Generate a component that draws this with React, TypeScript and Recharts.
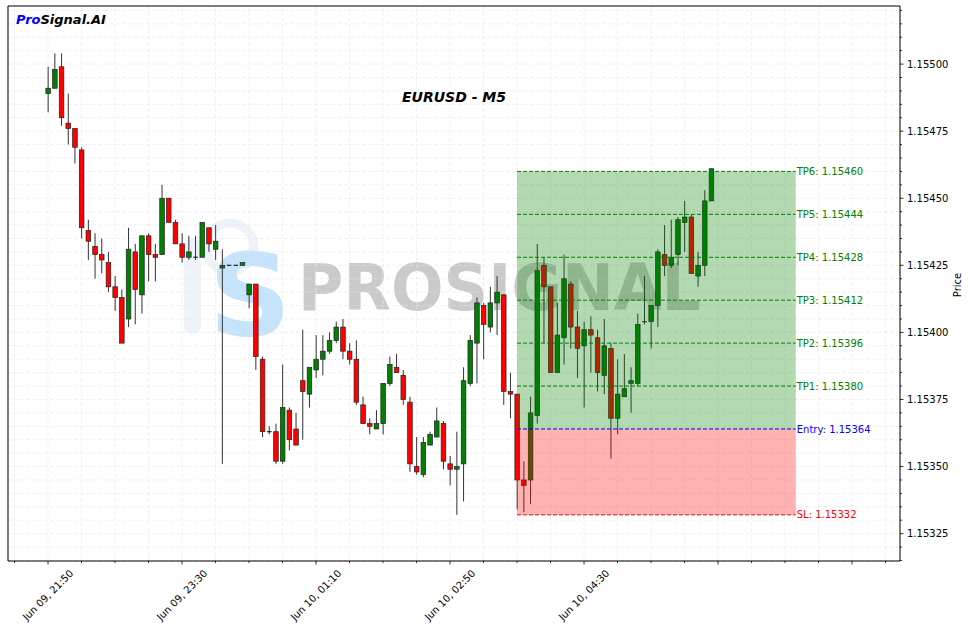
import React from "react";
import {
  Bar,
  CartesianGrid,
  ComposedChart,
  ReferenceArea,
  ReferenceLine,
  XAxis,
  YAxis,
} from "recharts";

// EURUSD M5 candles, Jun 09 21:50 -> Jun 10 06:05
const opens = [
  1.15489, 1.15491, 1.15499, 1.15478, 1.15476, 1.15468, 1.15438, 1.15432, 1.15429, 1.15426,
  1.15417, 1.15413, 1.15405, 1.1543, 1.15414, 1.15436, 1.15429, 1.15429, 1.1545, 1.15441,
  1.15433, 1.15428, 1.15428, 1.15428, 1.15439, 1.15431, 1.15424, 1.15425, 1.15425, 1.15425,
  1.15414, 1.15418, 1.1539, 1.15363, 1.15363, 1.15352, 1.15371, 1.15364, 1.15382, 1.15377,
  1.15386, 1.1539, 1.15393, 1.15397, 1.15402, 1.15393, 1.1539, 1.15373, 1.15366, 1.15364,
  1.15366, 1.15381, 1.15387, 1.15384, 1.15374, 1.1535, 1.15347, 1.15358, 1.15361, 1.15366,
  1.15351, 1.15349, 1.15351, 1.15381, 1.15396, 1.1541, 1.15402, 1.15411, 1.15414, 1.15378,
  1.15377, 1.15345, 1.15345, 1.15369, 1.15425, 1.15417, 1.15385, 1.15398, 1.15418, 1.15402,
  1.15395, 1.15401, 1.15398, 1.15384, 1.15394, 1.15368, 1.15376, 1.15381, 1.15381, 1.15404,
  1.15404, 1.1541, 1.15429, 1.15425, 1.15429, 1.15441, 1.15443, 1.15421, 1.15425, 1.15449,
];
const highs = [
  1.15499, 1.15504, 1.15504, 1.15489, 1.15476, 1.15469, 1.15442, 1.15437, 1.15435, 1.1543,
  1.15421, 1.15416, 1.15439, 1.15433, 1.15436, 1.15437, 1.15433, 1.15455, 1.1545, 1.15442,
  1.15437, 1.15436, 1.15436, 1.15441, 1.15439, 1.1544, 1.15431, 1.15425, 1.15425, 1.15426,
  1.15418, 1.15418, 1.15391, 1.15365, 1.15366, 1.15388, 1.15372, 1.1537, 1.15401, 1.15387,
  1.15399, 1.15399, 1.154, 1.15404, 1.15405, 1.15396, 1.15397, 1.15376, 1.15368, 1.15371,
  1.15381, 1.15391, 1.15392, 1.15386, 1.15376, 1.15361, 1.15361, 1.15363, 1.15372, 1.15367,
  1.15354, 1.15363, 1.15387, 1.15399, 1.15413, 1.15411, 1.15417, 1.15421, 1.15414, 1.15385,
  1.15377, 1.15352, 1.15376, 1.15433, 1.15428, 1.15417, 1.15411, 1.15429, 1.15419, 1.15408,
  1.15404, 1.15406, 1.15401, 1.15405, 1.15396, 1.1539, 1.15392, 1.15387, 1.15407, 1.15421,
  1.1541, 1.15431, 1.1544, 1.15442, 1.15443, 1.15449, 1.15444, 1.1543, 1.15453, 1.15461,
];
const lows = [
  1.15482, 1.15491, 1.15477, 1.1547, 1.15463, 1.15435, 1.15427, 1.1542, 1.15422, 1.15415,
  1.15408, 1.15396, 1.15402, 1.15403, 1.15407, 1.15419, 1.15419, 1.15429, 1.15441, 1.15433,
  1.15426, 1.15427, 1.15427, 1.15428, 1.1543, 1.15427, 1.15351, 1.15425, 1.15425, 1.15425,
  1.15409, 1.15386, 1.15361, 1.15362, 1.15351, 1.15351, 1.15356, 1.15358, 1.1536, 1.15372,
  1.15383, 1.15384, 1.15392, 1.15396, 1.1539, 1.15388, 1.15373, 1.15366, 1.15362, 1.15364,
  1.15362, 1.1538, 1.15385, 1.15373, 1.15348, 1.15347, 1.15346, 1.15358, 1.15361, 1.15349,
  1.15343, 1.15332, 1.15337, 1.1538, 1.15381, 1.1539, 1.154, 1.15399, 1.15373, 1.15368,
  1.15334, 1.15333, 1.15336, 1.15366, 1.15396, 1.15385, 1.15385, 1.15388, 1.15394, 1.15383,
  1.15372, 1.15385, 1.15378, 1.15377, 1.15353, 1.15362, 1.15376, 1.1537, 1.1538, 1.15403,
  1.15394, 1.15402, 1.15421, 1.15424, 1.15425, 1.1543, 1.15422, 1.15417, 1.15421, 1.15449,
];
const closes = [
  1.15491, 1.15498, 1.1548, 1.15476, 1.15469, 1.15439, 1.15434, 1.15429, 1.15427, 1.15417,
  1.15413, 1.15396, 1.15431, 1.15416, 1.15436, 1.15429, 1.15428, 1.1545, 1.15441, 1.15433,
  1.15428, 1.1543, 1.15428, 1.15441, 1.15433, 1.15434, 1.15425, 1.15425, 1.15425, 1.15426,
  1.15418, 1.15391, 1.15363, 1.15363, 1.15352, 1.15372, 1.1536, 1.15358, 1.15378, 1.15387,
  1.1539, 1.15393, 1.15397, 1.15402, 1.15393, 1.1539, 1.15374, 1.15366, 1.15365, 1.15366,
  1.15381, 1.15388, 1.15385, 1.15375, 1.15351, 1.15348, 1.15359, 1.15362, 1.15367, 1.15352,
  1.15349, 1.1535, 1.15382, 1.15397, 1.15411, 1.15403, 1.15411, 1.15415, 1.15378, 1.15377,
  1.15345, 1.15343, 1.1537, 1.15423, 1.15417, 1.15385, 1.15399, 1.1542, 1.15402, 1.15394,
  1.15401, 1.15399, 1.15385, 1.15395, 1.15368, 1.15377, 1.15379, 1.15382, 1.15403, 1.15404,
  1.1541, 1.1543, 1.15425, 1.15428, 1.15442, 1.15443, 1.15422, 1.15425, 1.15449, 1.15461,
];

const xMajorTicks = [0, 20, 40, 60, 80, 100, 120];
const xTickLabels = [
  "Jun 09, 21:50",
  "Jun 09, 23:30",
  "Jun 10, 01:10",
  "Jun 10, 02:50",
  "Jun 10, 04:30",
];

const entryPrice = 1.15364;
const stopPrice = 1.15332;
const tpNames = ["TP1", "TP2", "TP3", "TP4", "TP5", "TP6"];
const tpPrices = [1.1538, 1.15396, 1.15412, 1.15428, 1.15444, 1.1546];
const zoneStart = 70;
const zoneEnd = 111.6;

const X_MIN = -5.97;
const X_MAX = 127.16;
const Y_MIN = 1.153148;
const Y_MAX = 1.1552165;

const candles = opens.map((o, i) => ({
  i,
  o,
  h: highs[i],
  l: lows[i],
  c: closes[i],
}));

// minor ticks every 5 candles / 0.00005, majors picked out in the tick renderers
const xTicks: number[] = [];
for (let v = -5; v <= 125; v += 5) xTicks.push(v);
const yTicks: number[] = [];
for (let k = 115315; k <= 115520; k += 5) yTicks.push(k / 100000);

const FONT = "'DejaVu Sans', sans-serif";
const CHART_MARGIN = { top: 6, right: 0, bottom: 0, left: 8 };

function Candle(props: any) {
  const { x, y, width, height, payload } = props;
  if (!payload || x == null) return null;
  const { o, h, l, c } = payload;
  const cx = x + width / 2;
  const span = h - l;
  const toY = (v: number) => (span > 0 ? y + ((h - v) / span) * height : y);
  const top = toY(Math.max(o, c));
  const bot = toY(Math.min(o, c));
  const bw = 4.6;
  const fill = c > o ? "#008000" : "#ff0000";
  return (
    <g>
      {span > 0 && (
        <line x1={cx} x2={cx} y1={y} y2={y + height} stroke="#333" strokeWidth={1} />
      )}
      {bot - top < 0.7 ? (
        <line
          x1={cx - bw / 2}
          x2={cx + bw / 2}
          y1={top}
          y2={top}
          stroke={c === o ? "#222" : fill}
          strokeWidth={1.2}
        />
      ) : (
        <rect
          x={cx - bw / 2}
          y={top}
          width={bw}
          height={bot - top}
          fill={fill}
          stroke="#222"
          strokeWidth={0.7}
        />
      )}
    </g>
  );
}

function XTick(props: any) {
  const { x, y, payload } = props;
  const v = payload.value;
  const major = v % 20 === 0;
  const label = xTickLabels[xMajorTicks.indexOf(v)];
  const cy = y + 34;
  return (
    <g>
      <line x1={x} x2={x} y1={y} y2={y + (major ? 3.5 : 2)} stroke="#000" strokeWidth={0.8} />
      {major && label && (
        <text
          x={x}
          y={cy}
          textAnchor="middle"
          dominantBaseline="central"
          transform={`rotate(-45 ${x} ${cy})`}
          fontSize={10}
          fontFamily={FONT}
          fill="#000"
        >
          {label}
        </text>
      )}
    </g>
  );
}

function YTick(props: any) {
  const { x, y, payload } = props;
  const v = payload.value;
  const major = Math.round(v * 100000) % 25 === 0;
  return (
    <g>
      <line x1={x} x2={x + (major ? 3.5 : 2)} y1={y} y2={y} stroke="#000" strokeWidth={0.8} />
      {major && (
        <text
          x={x + 7}
          y={y}
          dominantBaseline="central"
          fontSize={10}
          fontFamily={FONT}
          fill="#000"
        >
          {v.toFixed(5)}
        </text>
      )}
    </g>
  );
}

function levelLabel(text: string, color: string) {
  return { value: text, position: "right" as const, offset: 1, fill: color, fontSize: 10 };
}

export default function App() {
  return (
    <div
      style={{
        position: "absolute",
        left: 0,
        top: 0,
        width: 969,
        height: 629,
        background: "#fff",
        fontFamily: FONT,
        overflow: "hidden",
      }}
    >
      {/* watermark sits behind the candles */}
      <svg width={969} height={629} style={{ position: "absolute", left: 0, top: 0 }}>
        <rect x={184} y={238} width={17} height={96} rx={8.5} fill="#eef3f9" />
        <circle cx={230} cy={247} r={24} fill="none" stroke="#eef3f9" strokeWidth={9} />
        <text
          x={250}
          y={335}
          textAnchor="middle"
          fontSize={114}
          fontWeight="bold"
          fontFamily={FONT}
          fill="#c6e3fc"
        >
          S
        </text>
        <text
          x={298}
          y={310}
          fontSize={64}
          fontWeight="bold"
          fontFamily={FONT}
          textLength={403}
          lengthAdjust="spacingAndGlyphs"
          fill="#808080"
          fillOpacity={0.42}
        >
          PROSIGNAL
        </text>
      </svg>

      {/* candles, grid and axes */}
      <div style={{ position: "absolute", left: 0, top: 0 }}>
        <ComposedChart width={969} height={629} data={candles} margin={CHART_MARGIN}>
          <CartesianGrid stroke="#e6e6e6" strokeDasharray="4 2" strokeOpacity={0.55} />
          <XAxis
            dataKey="i"
            type="number"
            domain={[X_MIN, X_MAX]}
            allowDataOverflow
            ticks={xTicks}
            interval={0}
            height={68}
            tickSize={0}
            tickMargin={0}
            axisLine={false}
            tickLine={false}
            tick={<XTick />}
          />
          <YAxis
            orientation="right"
            type="number"
            domain={[Y_MIN, Y_MAX]}
            allowDataOverflow
            ticks={yTicks}
            interval={0}
            width={69}
            tickSize={0}
            tickMargin={0}
            axisLine={false}
            tickLine={false}
            tick={<YTick />}
          />
          <Bar
            dataKey={(d: any) => [d.l, d.h]}
            barSize={5}
            shape={<Candle />}
            isAnimationActive={false}
          />
        </ComposedChart>
      </div>

      {/* trade zones drawn over the candles, same axes */}
      <div style={{ position: "absolute", left: 0, top: 0 }}>
        <ComposedChart width={969} height={629} data={candles} margin={CHART_MARGIN}>
          <XAxis
            dataKey="i"
            type="number"
            domain={[X_MIN, X_MAX]}
            allowDataOverflow
            height={68}
            tick={false}
            axisLine={false}
            tickLine={false}
          />
          <YAxis
            orientation="right"
            type="number"
            domain={[Y_MIN, Y_MAX]}
            allowDataOverflow
            width={69}
            tick={false}
            axisLine={false}
            tickLine={false}
          />
          <ReferenceArea
            x1={zoneStart}
            x2={zoneEnd}
            y1={entryPrice}
            y2={tpPrices[tpPrices.length - 1]}
            fill="#008000"
            fillOpacity={0.3}
            stroke="none"
          />
          <ReferenceArea
            x1={zoneStart}
            x2={zoneEnd}
            y1={stopPrice}
            y2={entryPrice}
            fill="#ff0000"
            fillOpacity={0.3}
            stroke="none"
          />
          {tpPrices.map((p, k) => (
            <ReferenceLine
              key={tpNames[k]}
              segment={[
                { x: zoneStart, y: p },
                { x: zoneEnd, y: p },
              ]}
              stroke="#008000"
              strokeWidth={1}
              strokeDasharray="4 2"
              label={levelLabel(`${tpNames[k]}: ${p.toFixed(5)}`, "#008000")}
            />
          ))}
          <ReferenceLine
            segment={[
              { x: zoneStart, y: entryPrice },
              { x: zoneEnd, y: entryPrice },
            ]}
            stroke="#0000ff"
            strokeWidth={1}
            strokeDasharray="4 2"
            label={levelLabel(`Entry: ${entryPrice.toFixed(5)}`, "#0000ff")}
          />
          <ReferenceLine
            segment={[
              { x: zoneStart, y: stopPrice },
              { x: zoneEnd, y: stopPrice },
            ]}
            stroke="#ff0000"
            strokeWidth={1}
            strokeDasharray="4 2"
            label={levelLabel(`SL: ${stopPrice.toFixed(5)}`, "#ff0000")}
          />
          <ReferenceArea
            x1={X_MIN}
            x2={X_MAX}
            y1={Y_MIN}
            y2={Y_MAX}
            fill="none"
            stroke="#000"
            strokeWidth={1}
          />
        </ComposedChart>
      </div>

      <svg
        width={969}
        height={629}
        style={{ position: "absolute", left: 0, top: 0, pointerEvents: "none" }}
      >
        <text x={16} y={24} fontSize={13} fontWeight="bold" fontStyle="italic" fontFamily={FONT}>
          <tspan fill="#0000ff">Pro</tspan>
          <tspan fill="#000">Signal.AI</tspan>
        </text>
        <text
          x={454}
          y={102}
          textAnchor="middle"
          fontSize={14}
          fontWeight="bold"
          fontStyle="italic"
          fontFamily={FONT}
          fill="#000"
        >
          EURUSD - M5
        </text>
        <text
          x={957}
          y={285}
          textAnchor="middle"
          dominantBaseline="central"
          transform="rotate(-90 957 285)"
          fontSize={10}
          fontFamily={FONT}
          fill="#000"
        >
          Price
        </text>
      </svg>
    </div>
  );
}
